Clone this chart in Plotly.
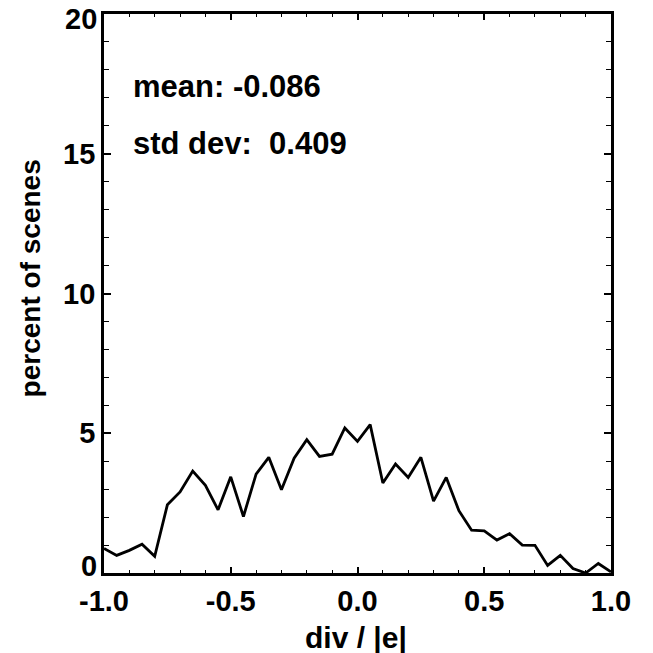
import plotly.graph_objects as go

x_vals = [round(-1.0 + 0.05 * i, 2) for i in range(41)]
percent = [0.88, 0.63, 0.81, 1.03, 0.60, 2.44, 2.90, 3.65, 3.14, 2.26,
           3.44, 2.02, 3.54, 4.14, 2.98, 4.11, 4.77, 4.17, 4.25, 5.19,
           4.71, 5.31, 3.22, 3.90, 3.42, 4.14, 2.57, 3.42, 2.23, 1.53,
           1.51, 1.18, 1.41, 1.00, 0.99, 0.27, 0.63, 0.16, 0.0, 0.34, 0.04]
x_ticks = [-1.0, -0.5, 0.0, 0.5, 1.0]
x_ticklabels = ["-1.0", "-0.5", "0.0", "0.5", "1.0"]
y_ticks = [0, 5, 10, 15, 20]
y_ticklabels = ["", "5", "10", "15", ""]
edge_labels = ["0", "20"]
edge_values = [0, 20]
edge_shift = [7, -5]
stats_text = ["mean: -0.086", "std dev:  0.409"]
stats_y = [17.42, 15.36]
x_title = "div / |e|"
y_title = "percent of scenes"

FONT = "Liberation Sans, Arial, Helvetica, sans-serif"

def bold(size):
    return dict(family=FONT, size=size, color="black", weight="bold")

fig = go.Figure()
fig.add_trace(go.Scatter(x=x_vals, y=percent, mode="lines",
                         line=dict(color="black", width=2.8), showlegend=False))

for t, yy in zip(stats_text, stats_y):
    fig.add_annotation(x=-0.893, y=yy, xref="x", yref="y", text=t, showarrow=False,
                       xanchor="left", yanchor="middle", font=bold(31))

# y tick labels at the ends of the axis
for t, v, s in zip(edge_labels, edge_values, edge_shift):
    fig.add_annotation(x=-0.012, y=v, xref="paper", yref="y", text=t,
                       showarrow=False, xanchor="right", yanchor="middle", yshift=s,
                       borderpad=0, font=bold(29))
# axis titles
fig.add_annotation(x=-0.146, y=0.527, xref="paper", yref="paper", text=y_title,
                   textangle=-90, showarrow=False, xanchor="center", yanchor="middle",
                   font=bold(28))
fig.add_annotation(x=0.497, y=-0.1145, xref="paper", yref="paper", text=x_title,
                   showarrow=False, xanchor="center", yanchor="middle",
                   font=bold(30))

fig.update_layout(
    width=653, height=653,
    margin=dict(l=104, r=42, t=14, b=80),
    paper_bgcolor="white", plot_bgcolor="white",
    font=dict(family=FONT, color="black", weight="bold"),
    xaxis=dict(range=[-1.0, 1.0], tickvals=x_ticks, ticktext=x_ticklabels,
               showgrid=False, zeroline=False, showline=True, linecolor="black",
               linewidth=2.8, mirror="allticks", ticks="inside", ticklen=6,
               tickwidth=1.5, tickcolor="black",
               minor=dict(dtick=0.1, ticks="inside", ticklen=3, tickcolor="black", tickwidth=1),
               tickfont=bold(29)),
    yaxis=dict(range=[0, 20], tickvals=y_ticks, ticktext=y_ticklabels,
               showgrid=False, zeroline=False, showline=True, linecolor="black",
               linewidth=2.8, mirror="allticks", ticks="inside", ticklen=7,
               tickwidth=1.5, tickcolor="black",
               minor=dict(dtick=1, ticks="inside", ticklen=5, tickcolor="black", tickwidth=1),
               tickfont=bold(29)),
)

fig.write_html("out.html")
